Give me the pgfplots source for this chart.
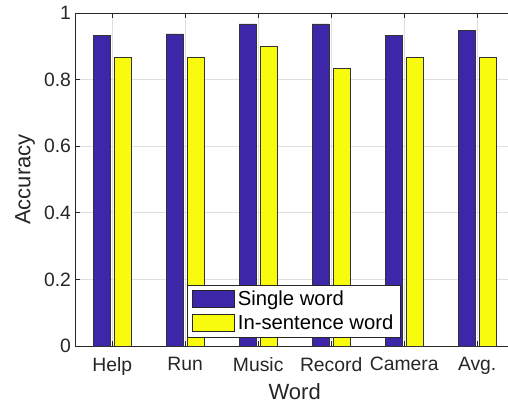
\documentclass[border=0pt]{standalone}
\usepackage{pgfplots}
\pgfplotsset{compat=1.18}
\usepackage{fontspec}
\setmainfont{Liberation Sans}
\definecolor{barblue}{RGB}{62,38,168}
\definecolor{baryellow}{RGB}{249,251,14}
\definecolor{axgray}{RGB}{38,38,38}
\definecolor{gridgray}{RGB}{223,223,223}
\begin{document}
\begin{tikzpicture}
\begin{axis}[
  x=54.75pt, y=249.75pt,
  xmin=0.5, xmax=6.5, ymin=0, ymax=1,
  xtick={1,2,3,4,5,6},
  xticklabels={Help,Run,Music,Record,Camera,Avg.},
  ytick={0,0.2,0.4,0.6,0.8,1},
  /pgf/number format/assume math mode=true,
  /pgf/number format/fixed,
  tick label style={font=\fontsize{14.5}{16}\selectfont, text=axgray},
  xticklabel style={yshift=-5pt},
  label style={font=\fontsize{16.5}{19}\selectfont, text=axgray},
  xlabel={Word}, ylabel={Accuracy},
  xlabel style={yshift=1pt},
  tick align=inside,
  major tick length=3.5pt,
  every tick/.style={axgray, line width=0.6pt},
  axis line style={axgray, line width=0.6pt},
  grid=major,
  major grid style={gridgray, line width=0.5pt},
  legend style={draw=axgray, fill=white, at={(0.255,0.025)}, anchor=south west,
    font=\fontsize{15.2}{17}\selectfont, inner xsep=3pt, inner ysep=2pt,
    row sep=1.5pt, line width=0.6pt},
  legend cell align=left,
  legend image code/.code={\draw[#1,draw=axgray,line width=0.6pt] (0pt,-6pt) rectangle (32pt,7pt);},
  clip=false,
]
\addplot[ybar, bar width=0.234, bar shift=-0.143, fill=barblue, draw=black!80, line width=0.6pt]
  coordinates {(1,0.933) (2,0.937) (3,0.967) (4,0.967) (5,0.933) (6,0.947)};
\addplot[ybar, bar width=0.234, bar shift=0.143, fill=baryellow, draw=black!80, line width=0.6pt]
  coordinates {(1,0.867) (2,0.867) (3,0.900) (4,0.833) (5,0.867) (6,0.867)};
\legend{Single word, In-sentence word}
\coordinate (bbl) at (axis cs:-0.537,-0.168);
\coordinate (btr) at (axis cs:6.422,1.039);
\end{axis}
\pgfresetboundingbox
\useasboundingbox (bbl) rectangle (btr);
\end{tikzpicture}
\end{document}
